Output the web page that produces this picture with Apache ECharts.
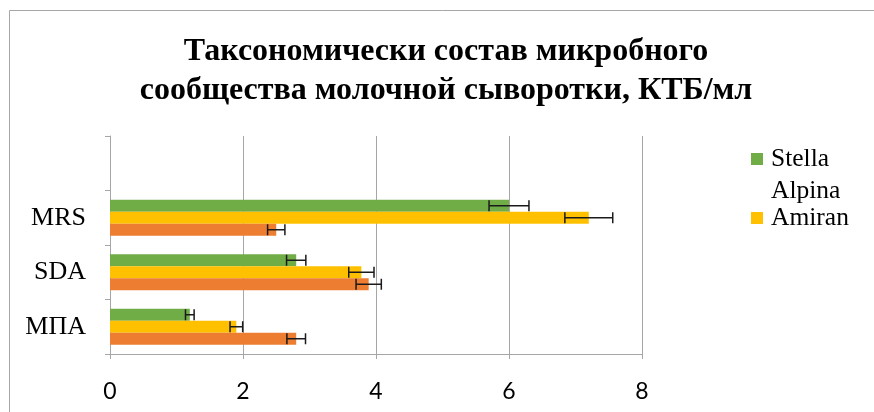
<!DOCTYPE html>
<html>
<head>
<meta charset="utf-8">
<script src="https://cdn.jsdelivr.net/npm/echarts@6/dist/echarts.min.js"></script>
<style>html,body{margin:0;padding:0;background:#fff}#c{width:874px;height:412px}</style>
</head>
<body>
<div id="c"></div>
<script>
const categories = ['МПА', 'SDA', 'MRS', ''];
const xTicks = [0, 2, 4, 6, 8];
const seriesNames = ['Stella Alpina', 'Amiran', 'Series 3'];
const stellaValues = [1.2, 2.8, 6.0];
const amiranValues = [1.9, 3.78, 7.2];
const thirdValues = [2.8, 3.89, 2.5];
const stellaErrors = [0.065, 0.145, 0.3];
const amiranErrors = [0.095, 0.19, 0.36];
const thirdErrors = [0.14, 0.19, 0.13];

const colors = ['#70ad47', '#ffc000', '#ed7d31'];
const BAR_W = 12;
const values = [stellaValues, amiranValues, thirdValues];
const errors = [stellaErrors, amiranErrors, thirdErrors];

const errData = [];
values.forEach((arr, s) => arr.forEach((v, i) => errData.push([v, i, errors[s][i], s])));

const chart = echarts.init(document.getElementById('c'));
chart.setOption({
  animation: false,
  backgroundColor: '#fff',
  color: colors,
  graphic: [{
    type: 'rect', shape: {x: 9.5, y: 10.5, width: 900, height: 450},
    style: {fill: 'none', stroke: '#a6a6a6', lineWidth: 1}, silent: true, z: -1
  }],
  title: {
    text: 'Таксономически состав микробного\nсообщества молочной сыворотки, КТБ/мл',
    left: 446, top: 32, padding: 0, textAlign: 'center',
    textStyle: {fontFamily: 'Liberation Serif', fontWeight: 'bold', fontSize: 32, lineHeight: 39, color: '#000'}
  },
  legend: {
    orient: 'vertical', left: 751, top: 111, padding: 0,
    itemWidth: 12, itemHeight: 12, itemGap: -5,
    icon: 'rect',
    data: ['Stella Alpina', 'Amiran'],
    formatter: n => (n.indexOf(' ') >= 0 ? '\u00a0\n' + n.replace(' ', '\n') : n),
    textStyle: {fontFamily: 'Liberation Serif', fontSize: 25.5, lineHeight: 32, color: '#000', padding: [0, 0, 0, 3]}
  },
  grid: {left: 110, right: 232, top: 136, bottom: 58, containLabel: false},
  xAxis: {
    type: 'value', min: xTicks[0], max: xTicks[xTicks.length - 1], interval: 2,
    axisLine: {show: true, lineStyle: {color: '#a6a6a6', width: 1}},
    axisTick: {show: true, length: 5, lineStyle: {color: '#a6a6a6'}},
    splitLine: {show: true, lineStyle: {color: '#a6a6a6', width: 1}},
    axisLabel: {fontFamily: 'Lato', fontSize: 23, color: '#000', margin: 26}
  },
  yAxis: {
    type: 'category', data: categories,
    axisLine: {show: true, lineStyle: {color: '#a6a6a6', width: 1}},
    axisTick: {show: true, length: 5, lineStyle: {color: '#a6a6a6'}},
    axisLabel: {fontFamily: 'Liberation Serif', fontSize: 26, color: '#000', margin: 24}
  },
  series: [
    {name: seriesNames[0], type: 'bar', data: stellaValues, barWidth: BAR_W, barGap: '0%'},
    {name: seriesNames[1], type: 'bar', data: amiranValues, barWidth: BAR_W, barGap: '0%'},
    {name: seriesNames[2], type: 'bar', data: thirdValues, barWidth: BAR_W, barGap: '0%'},
    {
      type: 'custom', data: errData, z: 10, silent: true,
      encode: {x: 0, y: 1},
      renderItem: function (params, api) {
        const v = api.value(0), cat = api.value(1), e = api.value(2), s = api.value(3);
        const p1 = api.coord([v - e, cat]);
        const p2 = api.coord([v + e, cat]);
        const y = p1[1] + (s - 1) * BAR_W;
        const h = 5.5;
        const st = {stroke: '#1a1a1a', lineWidth: 1.5};
        return {type: 'group', children: [
          {type: 'line', shape: {x1: p1[0], y1: y, x2: p2[0], y2: y}, style: st},
          {type: 'line', shape: {x1: p1[0], y1: y - h, x2: p1[0], y2: y + h}, style: st},
          {type: 'line', shape: {x1: p2[0], y1: y - h, x2: p2[0], y2: y + h}, style: st}
        ]};
      }
    }
  ]
});
</script>
</body>
</html>
